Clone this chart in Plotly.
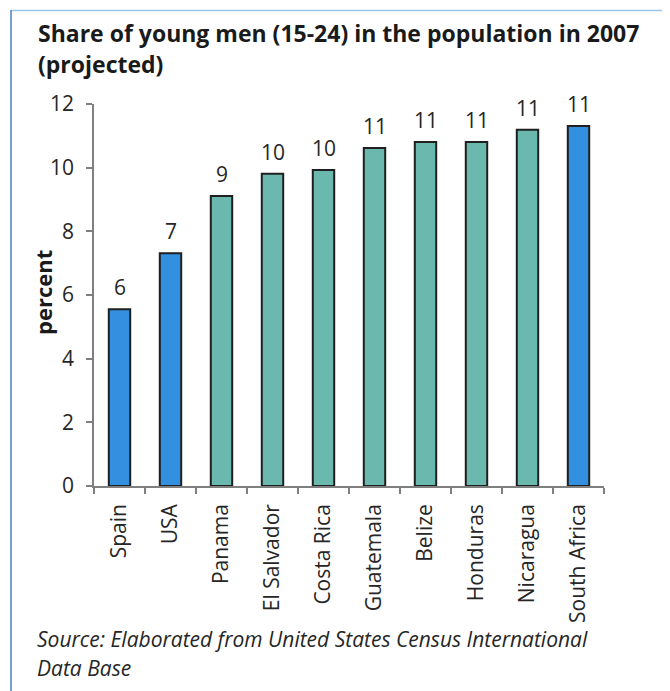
import plotly.graph_objects as go

countries = ["Spain", "USA", "Panama", "El Salvador", "Costa Rica", "Guatemala",
             "Belize", "Honduras", "Nicaragua", "South Africa"]
share = [5.55, 7.31, 9.11, 9.81, 9.93, 10.62, 10.81, 10.81, 11.19, 11.31]
highlight = [True, True, False, False, False, False, False, False, False, True]
y_ticks = [0, 2, 4, 6, 8, 10, 12]

title_lines = ["Share of young men (15-24) in the population in 2007", "(projected)"]
source_lines = ["Source: Elaborated from United States Census International", "Data Base"]

BLUE = "#3390e0"
TEAL = "#6bb8ae"
OFF = 8  # default page body margin
W, H = 670 - OFF, 691 - OFF
# plot area in page pixels: x 94..604, y 104..486
ML = 94 - OFF
MT = 104 - OFF
MR = W - (604 - OFF)
MB = H - (486 - OFF)
PW, PH = W - ML - MR, H - MT - MB


def px(x):
    return (x - OFF - ML) / PW


def py(y):
    return (H - MB - (y - OFF)) / PH


FONT = "Open Sans, Noto Sans, sans-serif"
TXT = "#262626"

fig = go.Figure()
fig.add_trace(go.Bar(
    x=countries, y=share,
    marker=dict(color=[BLUE if h else TEAL for h in highlight],
                line=dict(color="#1f1f1f", width=2)),
    width=0.42,
    hoverinfo="x+y",
))

annotations = []
for c, v in zip(countries, share):
    annotations.append(dict(x=c, y=v, xref="x", yref="y", text=str(round(v)),
                            showarrow=False, yanchor="bottom", yshift=6,
                            font=dict(family=FONT, size=21, color=TXT)))

for i, line in enumerate(title_lines):
    annotations.append(dict(
        x=px(36), y=py(33.5 + 31 * i), xref="paper", yref="paper",
        xanchor="left", yanchor="middle", showarrow=False,
        text="<b>" + line + "</b>",
        font=dict(family=FONT, size=23, color="#1a1a1a")))

annotations.append(dict(
    x=px(43), y=py(293), xref="paper", yref="paper", xanchor="center", yanchor="middle",
    textangle=-90, showarrow=False, text="<b>percent</b>",
    font=dict(family=FONT, size=22, color="#1a1a1a")))

for i, line in enumerate(source_lines):
    annotations.append(dict(
        x=px(35), y=py(638.5 + 29 * i), xref="paper", yref="paper",
        xanchor="left", yanchor="middle", showarrow=False,
        text="<i>" + line + "</i>",
        font=dict(family=FONT, size=21, color=TXT)))

shapes = [
    dict(type="line", xref="paper", yref="paper", x0=px(11), x1=px(666), y0=py(10.5), y1=py(10.5),
         line=dict(color="#9cc3e8", width=1.5)),
    dict(type="line", xref="paper", yref="paper", x0=px(11), x1=px(11), y0=py(10), y1=py(700),
         line=dict(color="#4a80c0", width=1.5)),
    dict(type="line", xref="paper", yref="paper", x0=px(666), x1=px(666), y0=py(10), y1=py(700),
         line=dict(color="#8ec0ea", width=1.5)),
]

fig.update_layout(
    width=W, height=H,
    margin=dict(l=ML, r=MR, t=MT, b=MB, pad=0),
    paper_bgcolor="white", plot_bgcolor="white",
    showlegend=False,
    annotations=annotations,
    shapes=shapes,
)
fig.update_xaxes(
    showline=True, linecolor="#7f7f7f", linewidth=1.5,
    ticks="outside", ticklen=6, tickcolor="#7f7f7f", tickwidth=1.5,
    tickson="boundaries", tickangle=-90, ticklabelstandoff=8,
    tickfont=dict(family=FONT, size=21, color=TXT),
    showgrid=False, zeroline=False, fixedrange=True,
)
fig.update_yaxes(
    range=[0, 12], tickvals=y_ticks,
    showline=True, linecolor="#7f7f7f", linewidth=1.5,
    ticks="outside", ticklen=6, tickcolor="#7f7f7f", tickwidth=1.5,
    ticklabelstandoff=8,
    tickfont=dict(family=FONT, size=21, color=TXT),
    showgrid=False, zeroline=False, fixedrange=True,
)

fig.write_html("out.html")
